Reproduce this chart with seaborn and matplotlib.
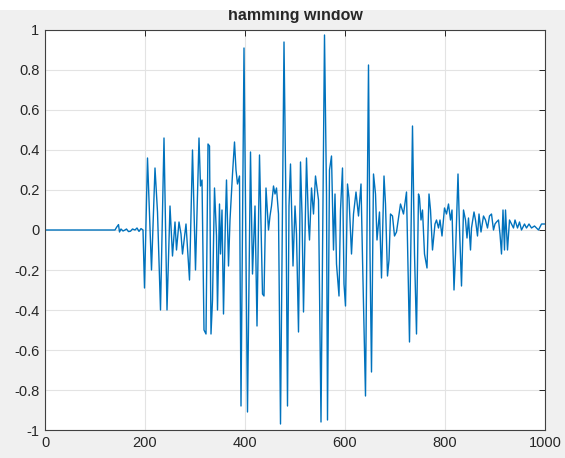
import matplotlib
matplotlib.use("Agg")
import matplotlib.pyplot as plt
import seaborn as sns
import pandas as pd
from matplotlib.patches import Rectangle

# samples (index, amplitude)
n = [0, 140, 143, 147, 149, 152, 156, 160, 163, 167, 171, 175, 180, 184, 188, 192, 196,
     199, 205, 213, 220, 225, 231, 238, 244, 250, 255, 260, 263, 268, 272, 275, 282,
     289, 295, 301, 308, 311, 314, 318, 322, 326, 329, 332, 335, 339, 343, 345, 349,
     351, 354, 357, 361, 363, 367, 370, 375, 379, 382, 385, 389, 392, 398, 405, 411,
     415, 420, 424, 429, 435, 438, 442, 447, 450, 453, 457, 460, 463, 467, 471, 478,
     482, 485, 488, 491, 496, 500, 503, 507, 511, 514, 517, 523, 527, 529, 533, 537,
     541, 547, 552, 559, 563, 565, 569, 573, 577, 580, 583, 588, 591, 595, 598, 601,
     605, 608, 613, 617, 622, 627, 632, 635, 641, 647, 650, 653, 657, 661, 664, 669,
     673, 678, 681, 685, 688, 691, 695, 699, 703, 708, 711, 717, 723, 729, 735, 739,
     743, 747, 749, 752, 755, 759, 764, 768, 771, 775, 780, 783, 787, 790, 794, 799,
     803, 807, 811, 814, 818, 821, 826, 829, 833, 837, 841, 844, 847, 851, 853, 858,
     861, 865, 868, 872, 877, 881, 885, 889, 893, 897, 900, 903, 907, 910, 913, 916,
     919, 921, 925, 929, 933, 937, 940, 945, 949, 953, 959, 963, 968, 973, 979, 987,
     993, 1000]
amp = [0, 0, 0.013, 0.027, -0.01, 0.005, -0.005, 0.0, 0.005, -0.008, -0.006, 0.005, 0.0,
       0.01, -0.007, 0.007, 0.0,
       -0.29, 0.36, -0.2, 0.31, 0.09, -0.40, 0.46, -0.40, 0.12, -0.13, 0.04, -0.10, 0.04,
       -0.02, -0.12, 0.03,
       -0.25, 0.40, -0.20, 0.46, 0.22, 0.25, -0.50, -0.52, 0.43, 0.42, -0.52, -0.35, 0.21,
       -0.03, -0.40, 0.13,
       -0.12, 0.10, -0.42, 0.07, 0.25, -0.18, 0.05, 0.28, 0.44, 0.30, 0.23, 0.27, -0.88,
       0.91, -0.91, 0.39,
       -0.22, 0.12, -0.48, 0.375, -0.32, -0.33, 0.21, 0.0, 0.07, 0.12, 0.22, 0.18, 0.21,
       0.08, -0.97, 0.94,
       0.10, -0.88, 0.12, 0.33, -0.18, 0.12, -0.02, -0.51, 0.34, 0.08, -0.41, 0.36, 0.03,
       -0.05, 0.21, 0.08,
       0.27, 0.15, -0.96, 0.975, 0.18, -0.95, 0.30, 0.37, -0.10, 0.18, -0.17, -0.33, 0.10,
       0.31, -0.27, -0.38,
       0.23, 0.16, -0.12, 0.08, 0.19, 0.07, 0.23, -0.14, -0.83, 0.825, -0.12, -0.71, 0.28,
       0.18, -0.05, 0.09,
       -0.24, 0.27, 0.13, -0.23, -0.15, 0.08, 0.07, -0.03, -0.01, 0.08, 0.13, 0.08, 0.19,
       -0.56, 0.52, -0.12,
       -0.52, 0.18, 0.16, 0.05, 0.10, -0.12, -0.19, 0.18, 0.10, -0.10, 0.03, 0.05, 0.01,
       0.05, -0.03, 0.11,
       0.08, 0.13, 0.05, 0.10, -0.30, -0.12, 0.28, 0.01, -0.28, 0.10, 0.05, -0.04, 0.06,
       -0.10, 0.01, 0.09,
       0.05, -0.03, 0.08, -0.01, 0.07, 0.05, 0.01, 0.07, 0.08, 0.0, 0.03, 0.04, 0.05,
       -0.02, -0.12, 0.10,
       -0.10, 0.10, -0.10, 0.05, 0.03, 0.01, 0.05, 0.01, 0.04, 0.0, 0.03, 0.01, 0.03,
       0.01, 0.02, 0.0,
       0.03, 0.03]

x_ticks = [0, 200, 400, 600, 800, 1000]
y_ticks = [-1, -0.8, -0.6, -0.4, -0.2, 0, 0.2, 0.4, 0.6, 0.8, 1]
y_labels = ["-1", "-0.8", "-0.6", "-0.4", "-0.2", "0", "0.2", "0.4", "0.6", "0.8", "1"]

df = pd.DataFrame({"n": n, "amp": amp})

sns.set_style("white")
plt.rcParams["font.family"] = ["Liberation Sans", "DejaVu Sans"]

fig = plt.figure(figsize=(5.65, 4.58), dpi=100, facecolor="#f0f0f0")
ax = fig.add_axes([45 / 565, 28 / 458, 500 / 565, 400 / 458])
ax.set_facecolor("white")

sns.lineplot(data=df, x="n", y="amp", ax=ax, color="#0072BD", linewidth=1.0,
             estimator=None, sort=False)

ax.set_xlim(0, 1000)
ax.set_ylim(-1, 1)
ax.set_xticks(x_ticks)
ax.set_yticks(y_ticks)
ax.set_yticklabels(y_labels)
ax.set_xlabel("")
ax.set_ylabel("")
ax.grid(True, color="#e3e3e3", linewidth=0.8)
ax.set_axisbelow(True)
ax.tick_params(direction="in", length=4, width=0.7, colors="#262626",
               labelsize=10.5, top=True, right=True, pad=4)
for s in ax.spines.values():
    s.set_color("#404040")
    s.set_linewidth(0.8)

ax.set_title("hamming window", fontsize=11.5, fontweight="bold", pad=7.5)

# white strip at the top of the screenshot that cuts the title
fig.patches.append(Rectangle((0, 1 - 10 / 458), 1, 10 / 458, transform=fig.transFigure,
                             facecolor="white", edgecolor="none", zorder=10))

fig.savefig("out.png", dpi=100, facecolor=fig.get_facecolor())
